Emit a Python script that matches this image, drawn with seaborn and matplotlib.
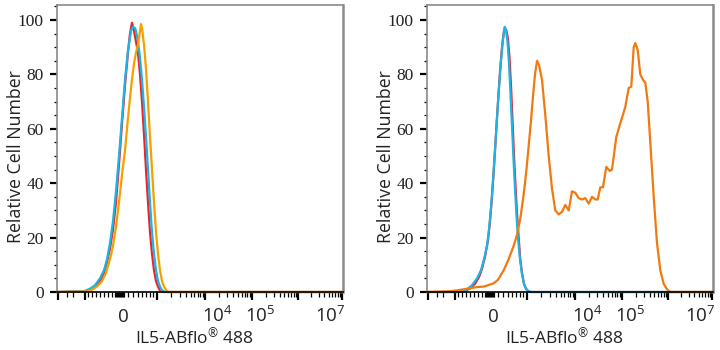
import numpy as np
import pandas as pd
import matplotlib
matplotlib.use("Agg")
import matplotlib.pyplot as plt
import matplotlib.transforms as mtransforms
import seaborn as sns

sns.set_style("white")
plt.rcParams['font.family'] = ['Open Sans', 'DejaVu Sans']
plt.rcParams['mathtext.fontset'] = 'custom'
plt.rcParams['mathtext.rm'] = 'Liberation Serif'
plt.rcParams['mathtext.it'] = 'Liberation Serif'
plt.rcParams['mathtext.sf'] = 'Open Sans'

# ---- data (x in display channel units of the biexponential axis, 0..286) ----
left_red_x = [0, 30, 35, 39, 43, 47, 50, 53, 56, 59, 62, 65, 68, 71, 73, 75, 77, 79, 81, 83, 85, 87, 89, 91, 93, 95, 97, 99, 101, 103, 106, 286]
left_red_y = [0, 0.3, 1, 2, 4, 7, 11, 16, 23, 33, 47, 62, 76, 88, 95, 99, 96, 92, 88, 80, 70, 58, 45, 33, 22, 14, 8, 4, 2, 0.5, 0, 0]

left_cyan_x = [0, 27, 33, 38, 43, 47, 50, 53, 56, 59, 62, 65, 68, 71, 74, 76, 78, 79, 81, 83, 85, 87, 89, 91, 93, 95, 97, 99, 101, 103, 105, 108, 286]
left_cyan_y = [0, 0.3, 1.2, 2.5, 5, 8, 12, 18, 26, 37, 50, 64, 78, 89, 96, 97.5, 97, 96, 92, 86, 78, 68, 57, 45, 33, 22, 14, 8, 4, 2, 0.7, 0, 0]

left_orange_x = [0, 30, 35, 40, 45, 49, 53, 56, 59, 62, 65, 68, 71, 74, 77, 79, 81, 83, 84, 85, 87, 89, 91, 93, 95, 97, 99, 101, 103, 105, 107, 109, 111, 286]
left_orange_y = [0, 0.2, 0.8, 2, 4, 7, 12, 17, 24, 33, 43, 52, 64, 75, 84, 88, 91, 96, 98.5, 97, 91, 82, 70, 57, 45, 33, 22, 14, 8, 4, 2, 0.8, 0, 0]

right_red_x = [0, 33, 38, 43, 48, 52, 55, 58, 61, 63, 65, 67, 69, 71, 73, 75, 77, 78, 79.5, 81, 82.5, 84, 85.5, 87, 88.5, 90, 91.5, 93, 95, 97, 99, 101, 103.5, 286]
right_red_y = [0, 0, 0.4, 1.3, 3, 5.5, 8.5, 13, 19, 26, 35, 46, 58, 70, 81, 90, 96, 97, 96, 93, 86, 76, 63, 50, 39, 29, 21, 13, 7, 3, 1.2, 0.4, 0, 0]

right_cyan_x = [0, 30, 36, 40, 45, 50, 54, 57, 60, 62, 64, 66, 68, 70, 72, 74, 76, 77.7, 79, 80.5, 82, 83.5, 85, 86.5, 88, 89.5, 91, 93, 95, 97, 99, 101, 103.5, 286]
right_cyan_y = [0, 0, 0.3, 1, 2.5, 5, 8, 12, 17, 23, 31, 41, 52, 64, 75, 85, 93, 97.5, 96, 92, 84, 73, 61, 49, 38, 28, 20, 12, 6.5, 3, 1.2, 0.4, 0, 0]

right_orange_x = [0, 23, 30, 40, 50, 56.7, 61, 66.7, 71, 76.7, 81, 86.7, 90, 93.3, 96, 98, 100, 102, 104, 106, 108, 110, 112, 115, 118.3, 121.7, 125, 128.3, 131.7, 135, 138.3, 141.7, 145, 148.3, 151.7, 155, 158.3, 161.7, 165, 168.3, 170.7, 173.3, 176, 179.3, 182.7, 185, 189.3, 193.3, 198.3, 201.7, 204.3, 206.7, 208.3, 210.7, 213.3, 216, 218.3, 220.7, 223.3, 226.7, 230, 233.3, 236.7, 240, 243.3, 286]
right_orange_y = [0, 0.3, 0.6, 1.2, 1.8, 2, 2.5, 3.2, 4.5, 8, 11.5, 17, 21, 27, 34, 40, 47, 55, 63, 72, 80, 85, 83.5, 78, 65, 50, 38, 30, 28.5, 29.5, 32, 30, 37, 36.5, 34.5, 34, 34.5, 32.5, 35, 34, 34, 38.5, 38.5, 46, 44.5, 45, 57, 62, 68, 75, 75.5, 90, 91.5, 89, 80, 78, 77, 70, 55, 35, 18, 8, 3, 1, 0, 0]

# axis ticks / labels
y_major = [0, 20, 40, 60, 80, 100]
y_minor = [5, 10, 15, 25, 30, 35, 45, 50, 55, 65, 70, 75, 85, 90, 95, 105]
x_major = [1, 28, 100, 148, 195, 241, 285]
x_label_pos = [66, 160, 203.5, 273]
x_labels = [r"$\mathregular{0}$", r"$\mathregular{10^{4}}$", r"$\mathregular{10^{5}}$", r"$\mathregular{10^{7}}$"]
x_minor_lin = [10, 16, 31, 35, 39, 43, 47, 51, 55, 58, 59, 60, 61, 62, 63, 64, 65, 66, 67, 71, 76, 81, 85, 89, 92.5, 96]
decades = [(100, 148), (148, 195), (195, 241), (241, 285)]
x_minor = list(x_minor_lin)
for a, b in decades:
    for k in range(2, 10):
        x_minor.append(a + np.log10(k) * (b - a))

xlabel = "IL5-ABflo$^{\\mathsf{\u00ae}}$ 488"
ylabel = "Relative Cell Number"

fig = plt.figure(figsize=(7.2, 3.5), dpi=100)
ax1 = fig.add_axes([57/720, 58/350, 286/720, 287/350])
ax2 = fig.add_axes([427/720, 58/350, 286/720, 287/350])

panels = [
    (ax1, [(left_red_x, left_red_y, "#e8252e"),
           (left_cyan_x, left_cyan_y, "#1ab4e6"),
           (left_orange_x, left_orange_y, "#f5a000")]),
    (ax2, [(right_red_x, right_red_y, "#e8252e"),
           (right_cyan_x, right_cyan_y, "#1ab4e6"),
           (right_orange_x, right_orange_y, "#f07a10")]),
]

for ax, series in panels:
    for xs, ys, c in series:
        df = pd.DataFrame({"x": xs, "y": ys})
        sns.lineplot(data=df, x="x", y="y", ax=ax, color=c, lw=1.6,
                     sort=False, estimator=None, clip_on=False)
    ax.set_xlim(0, 286)
    ax.set_ylim(0, 105.5)
    ax.set_yticks(y_major)
    ax.set_yticks(y_minor, minor=True)
    ax.set_yticklabels([str(v) for v in y_major], family="Liberation Serif",
                       fontsize=12.5, color="#222222")
    ax.set_xticks(x_major)
    ax.set_xticks(x_minor, minor=True)
    ax.set_xticklabels([])
    ax.tick_params(axis="y", which="major", direction="out", length=5, width=1.6,
                   color="black", pad=4.5, left=True)
    ax.tick_params(axis="y", which="minor", direction="out", length=2.5, width=0.9,
                   color="black", left=True)
    ax.tick_params(axis="x", which="major", direction="out", length=5.5, width=1.6,
                   color="black", bottom=True)
    ax.tick_params(axis="x", which="minor", direction="out", length=3.5, width=0.9,
                   color="black", bottom=True)
    trans = mtransforms.blended_transform_factory(ax.transData, ax.transAxes)
    for pos, lab in zip(x_label_pos, x_labels):
        ax.text(pos, -0.105, lab, transform=trans, ha="center", va="baseline",
                fontsize=13.5, color="#222222")
    for side in ["left", "top", "right"]:
        ax.spines[side].set_color("#8a8a8a")
        ax.spines[side].set_linewidth(1.2)
    ax.spines["right"].set_linewidth(1.8)
    ax.spines["bottom"].set_color("black")
    ax.spines["bottom"].set_linewidth(1.2)
    ax.set_xlabel(xlabel, fontsize=12.5, color="#222222")
    ax.set_ylabel(ylabel, fontsize=12.8, color="#222222")
    ax.xaxis.set_label_coords(137/286, -0.125)
    ax.yaxis.set_label_coords(-0.113, 0.472)

fig.savefig("out.png", dpi=100)
